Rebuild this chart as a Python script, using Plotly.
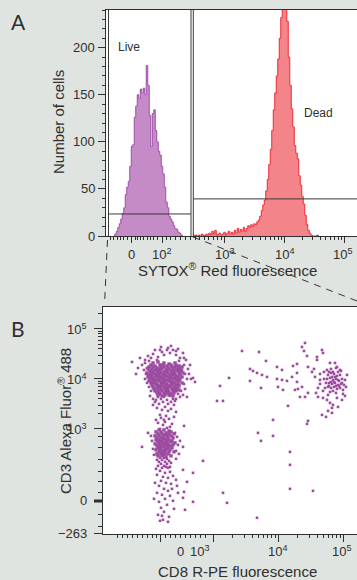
import numpy as np
import plotly.graph_objects as go

W, H = 357, 580
BG = "#dfe4e0"
INK = "#2f2f2f"
GATE = "#3a3a3a"
FONT = "Liberation Sans, Arial, Helvetica, sans-serif"

# ---------------- Panel A: SYTOX Red histogram (display channel units) ----------------
BIN_W = 1.5
live_start = 70.0
live_counts = [0, 2, 5, 9, 13, 18, 24, 30, 44, 52, 58, 74, 95, 97, 126, 138,
               150, 146, 156, 152, 157, 150, 181, 160, 128, 95, 130, 134, 112,
               100, 90, 86, 74, 66, 52, 36, 30, 21, 18, 15, 11, 8, 7, 4, 3, 1, 0]
dead_start = 149.0
dead_counts = [2, 0, 1, 0, 1, 0, 2, 1, 0, 2, 1, 3, 1, 5, 2, 6, 1, 2, 3, 1,
               2, 4, 1, 3, 5, 2, 4, 2, 6, 3, 8, 4, 7, 5, 9, 5, 8, 11,
               9, 12, 10, 13, 12, 15, 17, 21, 27, 33, 38, 48, 60, 76, 92, 112,
               134, 152, 170, 188, 210, 232, 262, 300, 272, 228, 190, 160, 135,
               116, 96, 88, 82, 64, 54, 42, 34, 22, 12, 6, 3, 1, 0, 0, 0, 1, 0]
live_gate_x = [64.5, 147.0]
live_gate_level = 23.4
dead_gate_x = [149.3, 340.0]
dead_gate_level = 39.4

a_x_major = [87, 118, 180, 240, 300]
a_x_minor_lin = [66, 69, 73, 76, 79, 83, 91, 93, 96, 99, 103, 106, 109, 113,
                 122, 126, 131, 136, 141, 146, 151, 155, 160, 164, 169, 173, 177]
a_x_label_text = ["0", "10<sup>2</sup>", "10<sup>3</sup>", "10<sup>4</sup>", "10<sup>5</sup>"]
a_x_label_pos = [87, 118, 181, 241, 299]
a_y_major = [0, 50, 100, 150, 200]
a_y_minor = [10, 20, 30, 40, 60, 70, 80, 90, 110, 120, 130, 140, 160, 170, 180, 190, 210, 220, 230, 240]

# ---------------- Panel B: CD8 vs CD3 dot plot (display channel units) ----------------
cd3pos_core = [
    (135, 216), (140, 217), (146, 216), (151, 215), (157, 216),
    (133, 214), (137, 213), (142, 214), (145, 214), (149, 213), (153, 214), (158, 214), (161, 213),
    (131, 212), (135, 212), (139, 211), (143, 212), (146, 212), (150, 211), (154, 212), (157, 212), (160, 211), (164, 212),
    (130, 210), (134, 210), (137, 209), (141, 210), (144, 210), (148, 209), (151, 210), (155, 210), (158, 209), (162, 210),
    (132, 208), (135, 207), (139, 208), (142, 208), (146, 207), (149, 208), (153, 208), (156, 207), (160, 208), (163, 208),
    (129, 206), (133, 206), (137, 205), (140, 206), (143, 206), (147, 205), (150, 206), (154, 206), (157, 205), (161, 206), (165, 206),
    (131, 204), (134, 204), (138, 203), (141, 204), (145, 204), (148, 203), (152, 204), (155, 204), (158, 203), (162, 204),
    (130, 202), (133, 202), (136, 201), (140, 202), (143, 202), (146, 201), (150, 202), (153, 202), (157, 201), (160, 202), (164, 202),
    (132, 200), (135, 200), (139, 199), (142, 200), (145, 200), (149, 199), (152, 200), (155, 200), (159, 199), (162, 200),
    (131, 198), (134, 197), (137, 198), (141, 198), (144, 197), (147, 198), (151, 198), (154, 197), (158, 198), (161, 198),
    (133, 196), (136, 196), (139, 195), (143, 196), (146, 196), (149, 195), (153, 196), (156, 196), (160, 195), (164, 196),
    (134, 194), (138, 194), (141, 193), (144, 194), (148, 194), (151, 193), (154, 194), (158, 194), (161, 193),
    (135, 192), (139, 191), (142, 192), (146, 192), (149, 191), (152, 192), (156, 192), (159, 191),
    (136, 190), (140, 189), (143, 190), (147, 190), (150, 189), (154, 190), (157, 190), (161, 189),
    (137, 188), (141, 187), (144, 188), (148, 188), (151, 187), (155, 188), (158, 188),
    (139, 186), (142, 185), (146, 186), (149, 186), (153, 185), (156, 186),
    (140, 184), (144, 183), (147, 184), (151, 184), (155, 183),
]
cd3pos_halo = [
    (114, 217), (122, 221), (127, 219), (130, 223), (135, 225), (140, 222), (144, 227), (149, 229),
    (152, 226), (155, 229), (158, 224), (165, 226), (162, 221), (168, 219), (172, 214), (170, 210),
    (167, 205), (169, 200), (166, 195), (167, 190), (124, 214), (126, 209), (128, 205), (127, 200),
    (129, 196), (131, 192), (133, 188), (132, 183), (135, 180), (137, 177), (160, 185), (163, 188),
    (162, 182), (158, 180), (165, 184), (127, 216), (131, 218), (146, 224), (139, 219), (133, 221),
    (161, 218), (166, 214), (164, 209), (129, 211), (171, 205), (173, 200), (166, 221), (175, 201),
    (177, 197), (169, 182), (120, 211), (118, 205), (137, 229), (143, 232), (153, 233), (160, 230),
    (142, 229), (150, 231), (158, 228),
    (140, 182), (143, 180), (146, 182), (149, 179), (152, 183), (155, 180), (145, 177), (150, 175),
    (153, 177), (141, 175), (147, 172), (156, 174), (144, 169), (150, 168), (139, 171), (153, 170),
    (158, 167), (142, 164), (148, 163), (146, 159), (157, 178), (138, 179), (135, 174),
    (143, 161), (147, 157), (151, 160), (145, 154), (149, 151), (140, 156), (154, 155), (142, 150),
    (152, 152), (138, 159), (156, 162), (166, 153),
]
cd3low_core = [
    (141, 149), (146, 149), (151, 148),
    (138, 147), (143, 147), (148, 146), (153, 147),
    (140, 145), (144, 145), (147, 144), (151, 145), (156, 145),
    (137, 143), (141, 143), (145, 142), (149, 143), (153, 143),
    (139, 141), (143, 141), (146, 140), (150, 141), (155, 141),
    (138, 139), (141, 139), (144, 138), (148, 139), (151, 139), (154, 138),
    (140, 137), (143, 137), (146, 136), (149, 137), (153, 137), (157, 136),
    (137, 135), (141, 135), (144, 134), (147, 135), (150, 135), (155, 134),
    (139, 133), (142, 133), (146, 132), (149, 133), (152, 133),
    (140, 131), (143, 131), (147, 130), (150, 131), (154, 131),
    (138, 129), (142, 129), (145, 128), (148, 129), (152, 129),
    (141, 127), (144, 127), (147, 126), (151, 127), (156, 127),
    (139, 125), (143, 125), (146, 124), (150, 125),
    (140, 123), (144, 123), (148, 122), (153, 123),
]
cd3low_tail = [
    (142, 121), (146, 121), (149, 120),
    (139, 119), (144, 119), (151, 118),
    (141, 117), (147, 117), (153, 116),
    (143, 115), (149, 115),
    (140, 113), (146, 113), (152, 112),
    (144, 111), (150, 111),
    (124, 132), (130, 146), (159, 142), (160, 134), (158, 128), (161, 125), (157, 146), (134, 138),
    (135, 130), (133, 143), (136, 124), (158, 120), (162, 138), (165, 132),
    (142, 108), (147, 106), (152, 107), (139, 104), (145, 102), (150, 101), (155, 103), (143, 98),
    (148, 96), (141, 93), (153, 95), (146, 90), (150, 88), (139, 86), (144, 84), (152, 83),
    (147, 80), (141, 77), (155, 78), (149, 74), (143, 71), (146, 67), (140, 64), (151, 62),
    (145, 59), (137, 96), (158, 99), (154, 90), (160, 86), (136, 80), (148, 112), (138, 110),
    (165, 109), (175, 106), (169, 97), (166, 87), (175, 77), (167, 69), (165, 81), (144, 63),
    (150, 57), (142, 58), (156, 70), (159, 93),
]
double_pos = [
    (299, 222), (299, 219), (304, 229), (305, 226), (290, 212), (294, 207), (297, 202), (302, 199),
    (298, 186), (300, 182), (305, 181), (309, 179), (312, 176), (315, 174), (320, 172), (324, 179),
    (314, 171), (304, 164), (308, 162), (314, 166), (310, 168), (325, 189), (329, 204), (327, 199),
    (322, 209), (319, 212), (312, 216), (309, 209), (317, 216),
    (310, 204), (313, 206), (316, 205), (319, 203), (322, 204), (309, 200), (312, 201), (315, 199),
    (318, 200), (321, 198), (324, 200), (311, 196), (314, 195), (317, 196), (320, 194), (323, 195),
    (310, 192), (313, 191), (316, 192), (319, 190), (322, 191), (315, 188), (318, 186), (312, 187),
    (308, 196), (326, 194), (325, 185), (307, 191), (306, 200), (317, 202), (314, 202), (320, 199),
    (311, 193), (316, 197), (321, 193), (313, 210), (318, 211), (323, 208), (306, 207), (302, 195),
    (300, 191), (328, 192), (327, 183), (319, 181), (310, 184), (305, 188), (302, 205), (296, 210),
    (315, 207), (320, 207), (311, 207), (324, 196), (318, 193), (313, 197),
]
scattered = [
    (185, 118), (202, 193), (199, 178), (205, 178), (205, 86), (209, 76), (239, 61), (224, 228),
    (241, 227), (248, 218), (232, 210), (235, 208), (239, 206), (244, 204), (249, 202), (243, 191),
    (232, 198), (240, 146), (243, 138), (255, 143), (255, 159), (259, 212), (264, 209), (259, 200),
    (264, 199), (269, 198), (260, 192), (265, 189), (270, 173), (272, 127), (272, 114), (272, 90),
    (295, 88), (275, 213), (279, 215), (274, 202), (279, 197), (280, 190), (277, 189), (282, 182),
    (287, 182), (290, 186), (284, 192), (287, 236), (284, 232), (286, 228), (289, 223), (290, 158),
    (289, 155), (279, 206), (211, 201),
]

b_x_major = [142, 195, 260, 325]
b_x_minor_lin = [99, 104, 109, 114, 119, 124, 129, 134, 138, 147, 152, 157, 162, 167, 172, 177, 182, 187]
b_x_label_text = ["0", "10<sup>3</sup>", "10<sup>4</sup>", "10<sup>5</sup>"]
b_x_label_pos = [162, 182, 260, 324]
b_y_major = [45, 78, 150, 200, 250]
b_y_minor_lin = [52, 64, 86, 97, 107, 119, 131, 142, 265]
b_y_label_text = ["\u2212263", "0", "10<sup>3</sup>", "10<sup>4</sup>", "10<sup>5</sup>"]
b_y_label_pos = [45, 78, 150, 200, 250]

DOT = "#9b4a9f"


def log_minors(decades, per_decade):
    return [d + per_decade * np.log10(k) for d in decades for k in range(2, 10)]


def px(x):
    return x / W


def py(y):
    return 1 - y / H


fig = go.Figure()

live_x = [live_start + i * BIN_W for i in range(len(live_counts))]
dead_x = [dead_start + i * BIN_W for i in range(len(dead_counts))]
fig.add_trace(go.Scatter(x=dead_x, y=dead_counts, mode="lines", line=dict(shape="hvh", color="#ec2a33", width=1),
                         fill="tozeroy", fillcolor="#f3858a", xaxis="x", yaxis="y", hoverinfo="skip"))
fig.add_trace(go.Scatter(x=live_x, y=live_counts, mode="lines", line=dict(shape="hvh", color="#9f4fa6", width=1),
                         fill="tozeroy", fillcolor="#c58bc6", xaxis="x", yaxis="y", hoverinfo="skip"))

dense = cd3pos_core + cd3low_core
sparse = cd3pos_halo + cd3low_tail + double_pos + scattered
fig.add_trace(go.Scatter(x=[e[0] for e in dense], y=[e[1] for e in dense], mode="markers",
                         marker=dict(symbol="square", size=3.4, color=DOT, line=dict(width=0)),
                         xaxis="x2", yaxis="y2", hoverinfo="skip"))
fig.add_trace(go.Scatter(x=[e[0] for e in sparse], y=[e[1] for e in sparse], mode="markers",
                         marker=dict(symbol="square", size=2.6, color=DOT, line=dict(width=0)),
                         xaxis="x2", yaxis="y2", hoverinfo="skip"))

axis_common = dict(showgrid=False, zeroline=False, showline=True, linecolor=INK, linewidth=1,
                   ticks="outside", tickcolor=INK, tickwidth=1, showticklabels=False, tickmode="array")

fig.update_layout(
    width=W, height=H, margin=dict(l=0, r=0, t=0, b=0),
    paper_bgcolor=BG, plot_bgcolor="white", showlegend=False,
    xaxis=dict(domain=[px(106), 1], range=[62, 313], anchor="y", tickvals=a_x_major, ticklen=6, mirror=True,
               minor=dict(tickmode="array", tickvals=a_x_minor_lin + log_minors([180, 240], 60),
                          ticks="outside", ticklen=3, tickcolor=INK, tickwidth=1, showgrid=False),
               **axis_common),
    yaxis=dict(domain=[py(236), py(10)], range=[0, 240], anchor="x", tickvals=a_y_major, ticklen=7,
               minor=dict(tickmode="array", tickvals=a_y_minor, ticks="outside", ticklen=3,
                          tickcolor=INK, tickwidth=1, showgrid=False),
               **axis_common),
    xaxis2=dict(domain=[px(103), 1], range=[85, 339], anchor="y2", tickvals=b_x_major, ticklen=7, mirror=True,
                minor=dict(tickmode="array", tickvals=b_x_minor_lin + log_minors([195, 260], 65),
                           ticks="outside", ticklen=3, tickcolor=INK, tickwidth=1, showgrid=False),
                **axis_common),
    yaxis2=dict(domain=[py(534), py(307)], range=[44.8, 272], anchor="x2", tickvals=b_y_major, ticklen=8,
                minor=dict(tickmode="array", tickvals=b_y_minor_lin + log_minors([150, 200], 50),
                           ticks="outside", ticklen=4, tickcolor=INK, tickwidth=1, showgrid=False),
                **axis_common),
)

shapes = []
# gates
for gx in live_gate_x:
    shapes.append(dict(type="line", xref="x", yref="y", x0=gx, x1=gx, y0=0, y1=240,
                       line=dict(color=GATE, width=1)))
shapes.append(dict(type="line", xref="x", yref="y", x0=live_gate_x[0], x1=live_gate_x[1],
                   y0=live_gate_level, y1=live_gate_level, line=dict(color=GATE, width=1)))
shapes.append(dict(type="line", xref="x", yref="y", x0=dead_gate_x[0], x1=dead_gate_x[0], y0=0, y1=240,
                   line=dict(color=GATE, width=1)))
shapes.append(dict(type="line", xref="x", yref="y", x0=dead_gate_x[0], x1=dead_gate_x[1],
                   y0=dead_gate_level, y1=dead_gate_level, line=dict(color=GATE, width=1)))
# zoom connector lines
shapes.append(dict(type="line", xref="paper", yref="paper", x0=px(107.5), y0=py(240), x1=px(104.5), y1=py(305),
                   line=dict(color="#333333", width=1, dash="7px,6px")))
shapes.append(dict(type="line", xref="paper", yref="paper", x0=px(193), y0=py(237), x1=px(357), y1=py(301),
                   line=dict(color="#333333", width=1, dash="7px,6px")))
# bold zero tick on CD3 axis
shapes.append(dict(type="line", xref="paper", yref="paper", x0=px(94), x1=px(103), y0=py(501), y1=py(501),
                   line=dict(color=INK, width=3)))
fig.update_layout(shapes=shapes)

ann = []


def text(t, x, y, size=12, xref="paper", yref="paper", xanchor="center", yanchor="middle", angle=0, family=FONT):
    ann.append(dict(text=t, x=x, y=y, xref=xref, yref=yref, showarrow=False, xanchor=xanchor, yanchor=yanchor,
                    textangle=angle, font=dict(size=size, color=INK, family=family)))


text("A", px(18), py(21), size=21, family="Lato, Open Sans, sans-serif")
text("B", px(18), py(328), size=21, family="Lato, Open Sans, sans-serif")
text("Number of cells", px(59), py(122), size=15, angle=-90)
text("SYTOX<sup>®</sup> Red fluorescence", px(227), py(270), size=15)
text("CD3 Alexa Fluor<sup>®</sup> 488", px(64), py(421), size=15, angle=-90)
text("CD8 R-PE fluorescence", px(237), py(571), size=15)
text("Live", px(129), py(47), size=12)
text("Dead", px(318), py(113), size=12)

for v in a_y_major:
    text(str(v), px(97), v, size=13, xref="paper", yref="y", xanchor="right")
for t, v in zip(a_x_label_text, a_x_label_pos):
    text(t, v, py(254), size=13, xref="x", yref="paper")
for t, v in zip(b_y_label_text, b_y_label_pos):
    text(t, px(89), v, size=13, xref="paper", yref="y2", xanchor="right")
for t, v in zip(b_x_label_text, b_x_label_pos):
    text(t, v, py(551), size=13, xref="x2", yref="paper")

fig.update_layout(annotations=ann)
fig.write_html("out.html", config={"displayModeBar": False},
               post_script="document.body.style.margin='0';document.body.style.overflow='hidden';")
